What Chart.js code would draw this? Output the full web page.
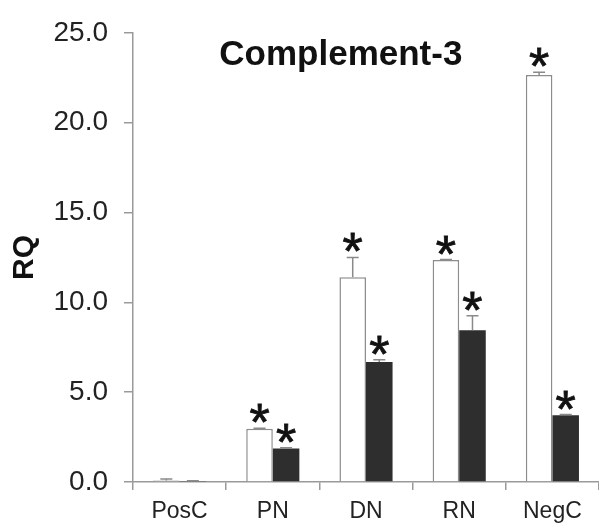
<!DOCTYPE html>
<html>
<head>
<meta charset="utf-8">
<script src="https://cdn.jsdelivr.net/npm/chart.js@4.4.1/dist/chart.umd.min.js"></script>
<style>
  html, body { margin: 0; padding: 0; background: #ffffff; }
  #wrap { width: 599px; height: 524px; }
</style>
</head>
<body>
<div id="wrap"><canvas id="c" width="599" height="524"></canvas></div>
<script>
// Groups along the x axis
const categories = ['PosC', 'PN', 'DN', 'RN', 'NegC'];

// Open bars: mean RQ and upper error
const openValues = [0.08, 2.96, 11.4, 12.35, 22.65];
const openErrors = [0.09, 0.03, 1.1, 0.03, 0.15];
const openSignificant = [false, true, true, true, true];

// Filled bars: mean RQ and upper error
const filledValues = [0.05, 1.86, 6.68, 8.45, 3.72];
const filledErrors = [0.02, 0.04, 0.12, 0.8, 0.03];
const filledSignificant = [false, true, true, true, true];

// Y axis range
const yMin = 0;
const yMax = 25;
const yStep = 5;

const chartTitle = 'Complement-3';
const yTitle = 'RQ';

const axisColor = '#9a9a9a';
const fontFamily = '"Liberation Sans", Arial, sans-serif';

// Upward error whiskers with caps, then the significance stars above them
const errorAndStars = {
  id: 'errorAndStars',
  afterDatasetsDraw(chart) {
    const ctx = chart.ctx;
    const y = chart.scales.y;
    chart.data.datasets.forEach((ds, di) => {
      const meta = chart.getDatasetMeta(di);
      meta.data.forEach((bar, i) => {
        const v = ds.data[i];
        const e = ds.errors[i];
        const top = y.getPixelForValue(v + e);
        const base = bar.y;
        ctx.save();
        ctx.strokeStyle = '#8a8a8a';
        ctx.lineWidth = 1.5;
        ctx.beginPath();
        ctx.moveTo(bar.x, base);
        ctx.lineTo(bar.x, top);
        ctx.moveTo(bar.x - 6, top);
        ctx.lineTo(bar.x + 6, top);
        ctx.stroke();
        if (ds.significant[i]) {
          ctx.fillStyle = '#111111';
          ctx.strokeStyle = '#111111';
          ctx.lineWidth = 0.8;
          ctx.font = '52px ' + fontFamily;
          ctx.textAlign = 'center';
          ctx.textBaseline = 'alphabetic';
          const m = ctx.measureText('*');
          // lowest ink of the glyph sits a few px above the whisker top
          const baseY = top - 5 - m.actualBoundingBoxDescent;
          ctx.fillText('*', bar.x, baseY);
          ctx.strokeText('*', bar.x, baseY);
        }
        ctx.restore();
      });
    });
  }
};

// Chart heading drawn inside the plot area
const innerTitle = {
  id: 'innerTitle',
  afterDraw(chart) {
    const a = chart.chartArea;
    const ctx = chart.ctx;
    ctx.save();
    ctx.fillStyle = '#111111';
    ctx.font = 'bold 35px ' + fontFamily;
    ctx.textAlign = 'center';
    ctx.textBaseline = 'middle';
    ctx.fillText(chartTitle, a.left + (a.right - a.left) * 0.446, a.top + 23);
    ctx.restore();
  }
};

new Chart(document.getElementById('c'), {
  type: 'bar',
  data: {
    labels: categories,
    datasets: [
      {
        data: openValues,
        errors: openErrors,
        significant: openSignificant,
        backgroundColor: '#ffffff',
        borderColor: '#8c8c8c',
        borderWidth: 1.5,
        borderSkipped: 'bottom',
        categoryPercentage: 0.57,
        barPercentage: 1.0
      },
      {
        data: filledValues,
        errors: filledErrors,
        significant: filledSignificant,
        backgroundColor: '#2e2e2e',
        borderColor: '#2e2e2e',
        borderWidth: 0,
        categoryPercentage: 0.57,
        barPercentage: 1.0
      }
    ]
  },
  options: {
    responsive: false,
    devicePixelRatio: 1,
    animation: false,
    layout: { padding: { top: 28, right: 0, bottom: 0, left: 0 } },
    plugins: {
      legend: { display: false },
      tooltip: { enabled: false },
      title: { display: false }
    },
    scales: {
      x: {
        offset: true,
        grid: {
          offset: true,
          drawOnChartArea: false,
          drawTicks: true,
          tickLength: 8,
          color: axisColor,
          lineWidth: 1.5
        },
        border: { color: axisColor, width: 1.5 },
        ticks: {
          color: '#222222',
          font: { family: fontFamily, size: 23 },
          padding: 8
        },
        afterFit(scale) { scale.height = 42; }
      },
      y: {
        min: yMin,
        max: yMax,
        grid: {
          drawOnChartArea: false,
          drawTicks: true,
          tickLength: 9,
          color: axisColor,
          lineWidth: 1.5
        },
        border: { color: axisColor, width: 1.5 },
        ticks: {
          stepSize: yStep,
          color: '#222222',
          font: { family: fontFamily, size: 28 },
          padding: 16,
          callback: v => Number(v).toFixed(1)
        },
        title: {
          display: true,
          text: yTitle,
          color: '#111111',
          font: { family: fontFamily, size: 30, weight: 'bold' },
          padding: { top: 7, bottom: 0 }
        },
        afterFit(scale) { scale.width = 133; }
      }
    }
  },
  plugins: [errorAndStars, innerTitle]
});
</script>
</body>
</html>
